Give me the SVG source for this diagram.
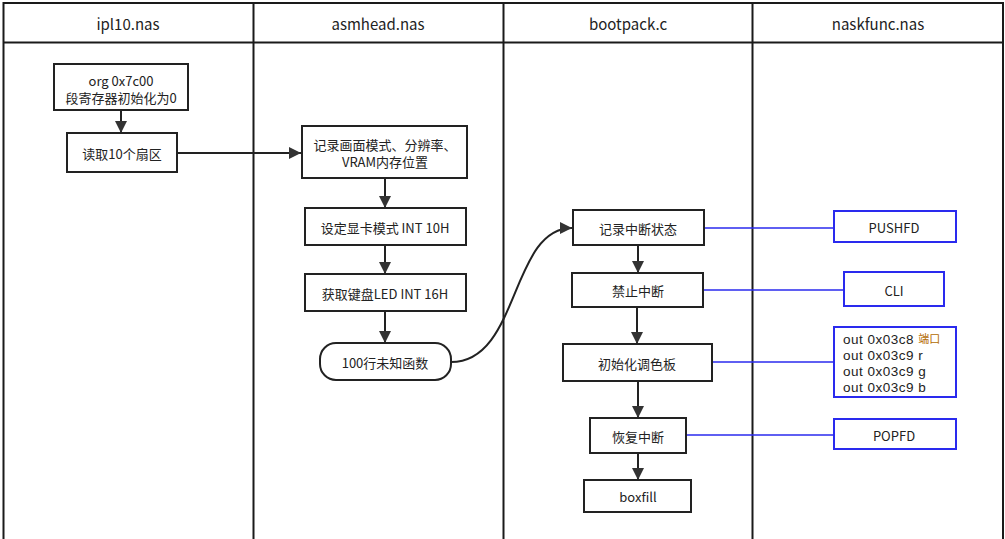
<svg xmlns="http://www.w3.org/2000/svg" width="1005" height="539" viewBox="0 0 1005 539">
<defs>
<marker id="av" markerWidth="12" markerHeight="14" refX="12" refY="6" orient="auto" markerUnits="userSpaceOnUse" viewBox="0 0 12 12">
<path d="M0,0 L12,6 L0,12 Z" fill="#333"/>
</marker>
</defs>
<style>
text{font-family:"Noto Sans CJK SC","Noto Sans",sans-serif;font-size:13px;fill:#222;text-anchor:middle;dominant-baseline:central}
.hd{font-size:15px}
.frame{stroke:#1a1a1a;stroke-width:2;fill:none}
.box{fill:#fff;stroke:#222;stroke-width:2}
.bbox{fill:#fff;stroke:#2a2aee;stroke-width:2}
.conn{stroke:#222;stroke-width:2;fill:none}
.blue{stroke:#2a2aee;stroke-width:1.5;fill:none}
.lt{text-anchor:start;font-family:"Liberation Sans","Noto Sans CJK SC",sans-serif;font-size:13.5px;letter-spacing:0.5px}
</style>
<rect width="1005" height="539" fill="#fff"/>
<g id="frame">
<path class="frame" d="M3.5,539 V3 H1003 V539"/>
<path class="frame" d="M3.5,42.5 H1003"/>
<path class="frame" d="M253.5,3 V539 M503.5,3 V539 M752.5,3 V539"/>
<text class="hd" x="128" y="23">ipl10.nas</text>
<text class="hd" x="378" y="23">asmhead.nas</text>
<text class="hd" x="628" y="23">bootpack.c</text>
<text class="hd" x="878" y="23">naskfunc.nas</text>
</g>
<g id="connectors">
<path class="conn" d="M121,110 V133" marker-end="url(#av)"/>
<path class="conn" d="M177,153 H301" marker-end="url(#av)"/>
<path class="conn" d="M385,178 V208" marker-end="url(#av)"/>
<path class="conn" d="M385,245 V274" marker-end="url(#av)"/>
<path class="conn" d="M385,311 V343" marker-end="url(#av)"/>
<path class="conn" d="M451,362 C520,362 510,228 572,228" marker-end="url(#av)"/>
<path class="conn" d="M638,245 V273" marker-end="url(#av)"/>
<path class="conn" d="M637,307 V344" marker-end="url(#av)"/>
<path class="conn" d="M638,381 V418" marker-end="url(#av)"/>
<path class="conn" d="M638,453 V480" marker-end="url(#av)"/>
<path class="blue" d="M704,228 H834"/>
<path class="blue" d="M703,290 H844"/>
<path class="blue" d="M712,362 H834"/>
<path class="blue" d="M686,435 H834"/>
</g>
<g id="n_org"><rect class="box" x="54" y="64" width="134" height="46"/><text x="121" y="80">org 0x7c00</text><text x="121" y="97">段寄存器初始化为0</text></g>
<g id="n_read"><rect class="box" x="67" y="133" width="110" height="39"/><text x="122" y="153">读取10个扇区</text></g>
<g id="n_rec"><rect class="box" x="302" y="126" width="165" height="52"/><text x="385" y="144">记录画面模式、分辨率、</text><text x="385" y="161">VRAM内存位置</text></g>
<g id="n_vga"><rect class="box" x="305" y="208" width="161" height="37"/><text x="385" y="227">设定显卡模式 INT  10H</text></g>
<g id="n_kbd"><rect class="box" x="305" y="274" width="161" height="37"/><text x="385" y="293">获取键盘LED INT  16H</text></g>
<g id="n_unk"><rect class="box" x="320" y="343" width="131" height="37" rx="16"/><text x="385" y="362">100行未知函数</text></g>
<g id="n_save"><rect class="box" x="573" y="210" width="131" height="35"/><text x="638" y="228">记录中断状态</text></g>
<g id="n_cli"><rect class="box" x="572" y="273" width="131" height="34"/><text x="638" y="290">禁止中断</text></g>
<g id="n_pal"><rect class="box" x="563" y="344" width="149" height="37"/><text x="637" y="363">初始化调色板</text></g>
<g id="n_rest"><rect class="box" x="590" y="418" width="96" height="35"/><text x="638" y="436">恢复中断</text></g>
<g id="n_box"><rect class="box" x="584" y="480" width="107" height="32"/><text x="638" y="496">boxfill</text></g>
<g id="n_pushfd"><rect class="bbox" x="834" y="211" width="122" height="31"/><text x="894" y="227">PUSHFD</text></g>
<g id="n_cliasm"><rect class="bbox" x="844" y="272" width="100" height="34"/><text x="894" y="290">CLI</text></g>
<g id="n_out"><rect class="bbox" x="834" y="327" width="122" height="70"/>
<text class="lt" x="843" y="339">out 0x03c8 <tspan fill="#b36b00" font-size="11" letter-spacing="0">端口</tspan></text>
<text class="lt" x="843" y="355">out 0x03c9 r</text>
<text class="lt" x="843" y="371">out 0x03c9 g</text>
<text class="lt" x="843" y="387">out 0x03c9 b</text></g>
<g id="n_popfd"><rect class="bbox" x="834" y="419" width="122" height="30"/><text x="894" y="435">POPFD</text></g>
</svg>
